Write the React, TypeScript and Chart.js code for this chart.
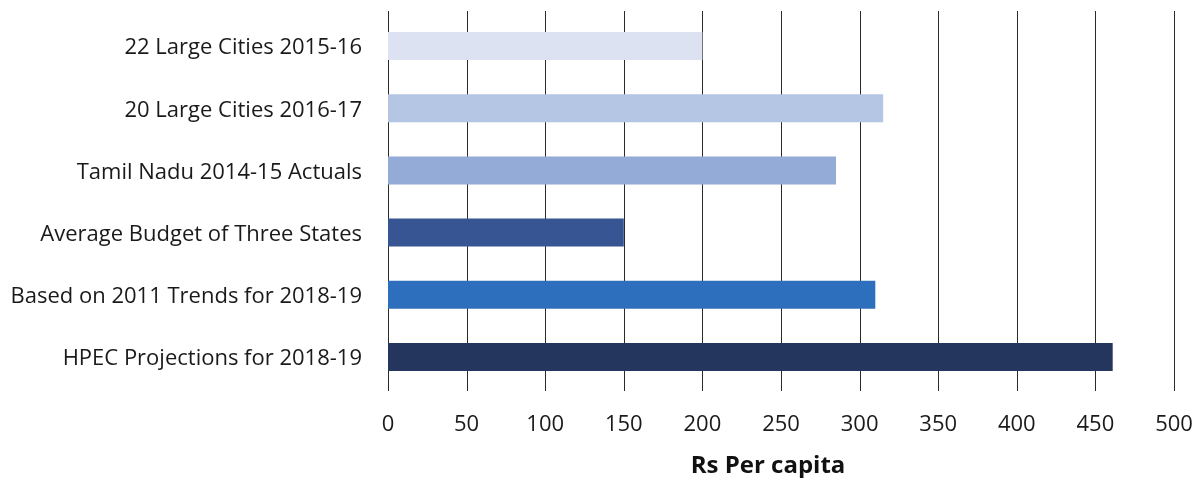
import React, { useEffect, useRef } from "react";
import { Chart, registerables } from "chart.js";

Chart.register(...registerables);

const categories = [
  "22 Large Cities 2015-16",
  "20 Large Cities 2016-17",
  "Tamil Nadu 2014-15 Actuals",
  "Average Budget of Three States",
  "Based on 2011 Trends for 2018-19",
  "HPEC Projections for 2018-19",
];
const perCapita = [200, 315, 285, 150, 310, 461];
const barColors = ["#DCE2F1", "#B5C5E4", "#94AAD7", "#375493", "#2E6FBD", "#25365E"];
const xTicks = [0, 50, 100, 150, 200, 250, 300, 350, 400, 450, 500];
const axisTitle = "Rs Per capita";

const FONT = "'Open Sans', 'Noto Sans', sans-serif";

// Vertical grid lines drawn behind the bars, running a little past the plot area
const gridPlugin = {
  id: "vgrid",
  beforeDatasetsDraw(chart: any) {
    const { ctx, chartArea, scales } = chart;
    const x = scales.x;
    ctx.save();
    ctx.strokeStyle = "#2a2a2a";
    ctx.lineWidth = 1;
    for (const v of xTicks) {
      const px = Math.round(x.getPixelForValue(v)) + 0.5;
      ctx.beginPath();
      ctx.moveTo(px, chartArea.top - 4);
      ctx.lineTo(px, chartArea.bottom + 3);
      ctx.stroke();
    }
    ctx.restore();
  },
};

// Axis caption under the tick labels
const captionPlugin = {
  id: "caption",
  afterDraw(chart: any) {
    const { ctx, chartArea } = chart;
    ctx.save();
    ctx.font = `bold 24px ${FONT}`;
    ctx.fillStyle = "#111";
    ctx.textAlign = "center";
    ctx.textBaseline = "alphabetic";
    const cx = (chartArea.left + chartArea.right) / 2 - 13;
    ctx.fillText(axisTitle, cx, 473);
    ctx.restore();
  },
};

export default function App() {
  const ref = useRef<HTMLCanvasElement>(null);

  useEffect(() => {
    if (!ref.current) return;
    const chart = new Chart(ref.current, {
      type: "bar",
      data: {
        labels: categories,
        datasets: [
          {
            data: perCapita,
            backgroundColor: barColors,
            borderWidth: 0,
            categoryPercentage: 1,
            barPercentage: 0.45,
          },
        ],
      },
      options: {
        indexAxis: "y",
        responsive: false,
        animation: false,
        devicePixelRatio: 1,
        layout: { padding: { left: 0, top: 15, right: 25, bottom: 0 } },
        plugins: {
          legend: { display: false },
          tooltip: { enabled: false },
        },
        scales: {
          x: {
            min: 0,
            max: 500,
            afterBuildTicks(scale: any) {
              scale.ticks = xTicks.map((v) => ({ value: v }));
            },
            afterFit(scale: any) {
              scale.height = 90;
              scale.paddingLeft = 0;
              scale.paddingRight = 0;
            },
            grid: { display: false, drawTicks: false },
            border: { display: false },
            ticks: {
              padding: 24,
              color: "#1a1a1a",
              font: { family: FONT, size: 22 },
              maxRotation: 0,
            },
          },
          y: {
            afterFit(scale: any) {
              scale.width = 388;
              scale.paddingTop = 0;
              scale.paddingBottom = 0;
            },
            grid: { display: false, drawTicks: false },
            border: { display: false },
            ticks: {
              padding: 26,
              labelOffset: 2,
              color: "#1a1a1a",
              font: { family: FONT, size: 22 },
            },
          },
        },
      },
      plugins: [gridPlugin, captionPlugin],
    });
    return () => chart.destroy();
  }, []);

  return (
    <div style={{ position: "absolute", left: 0, top: 0, width: 1199, height: 478, background: "#fff" }}>
      <canvas ref={ref} width={1199} height={478} style={{ display: "block" }} />
    </div>
  );
}
